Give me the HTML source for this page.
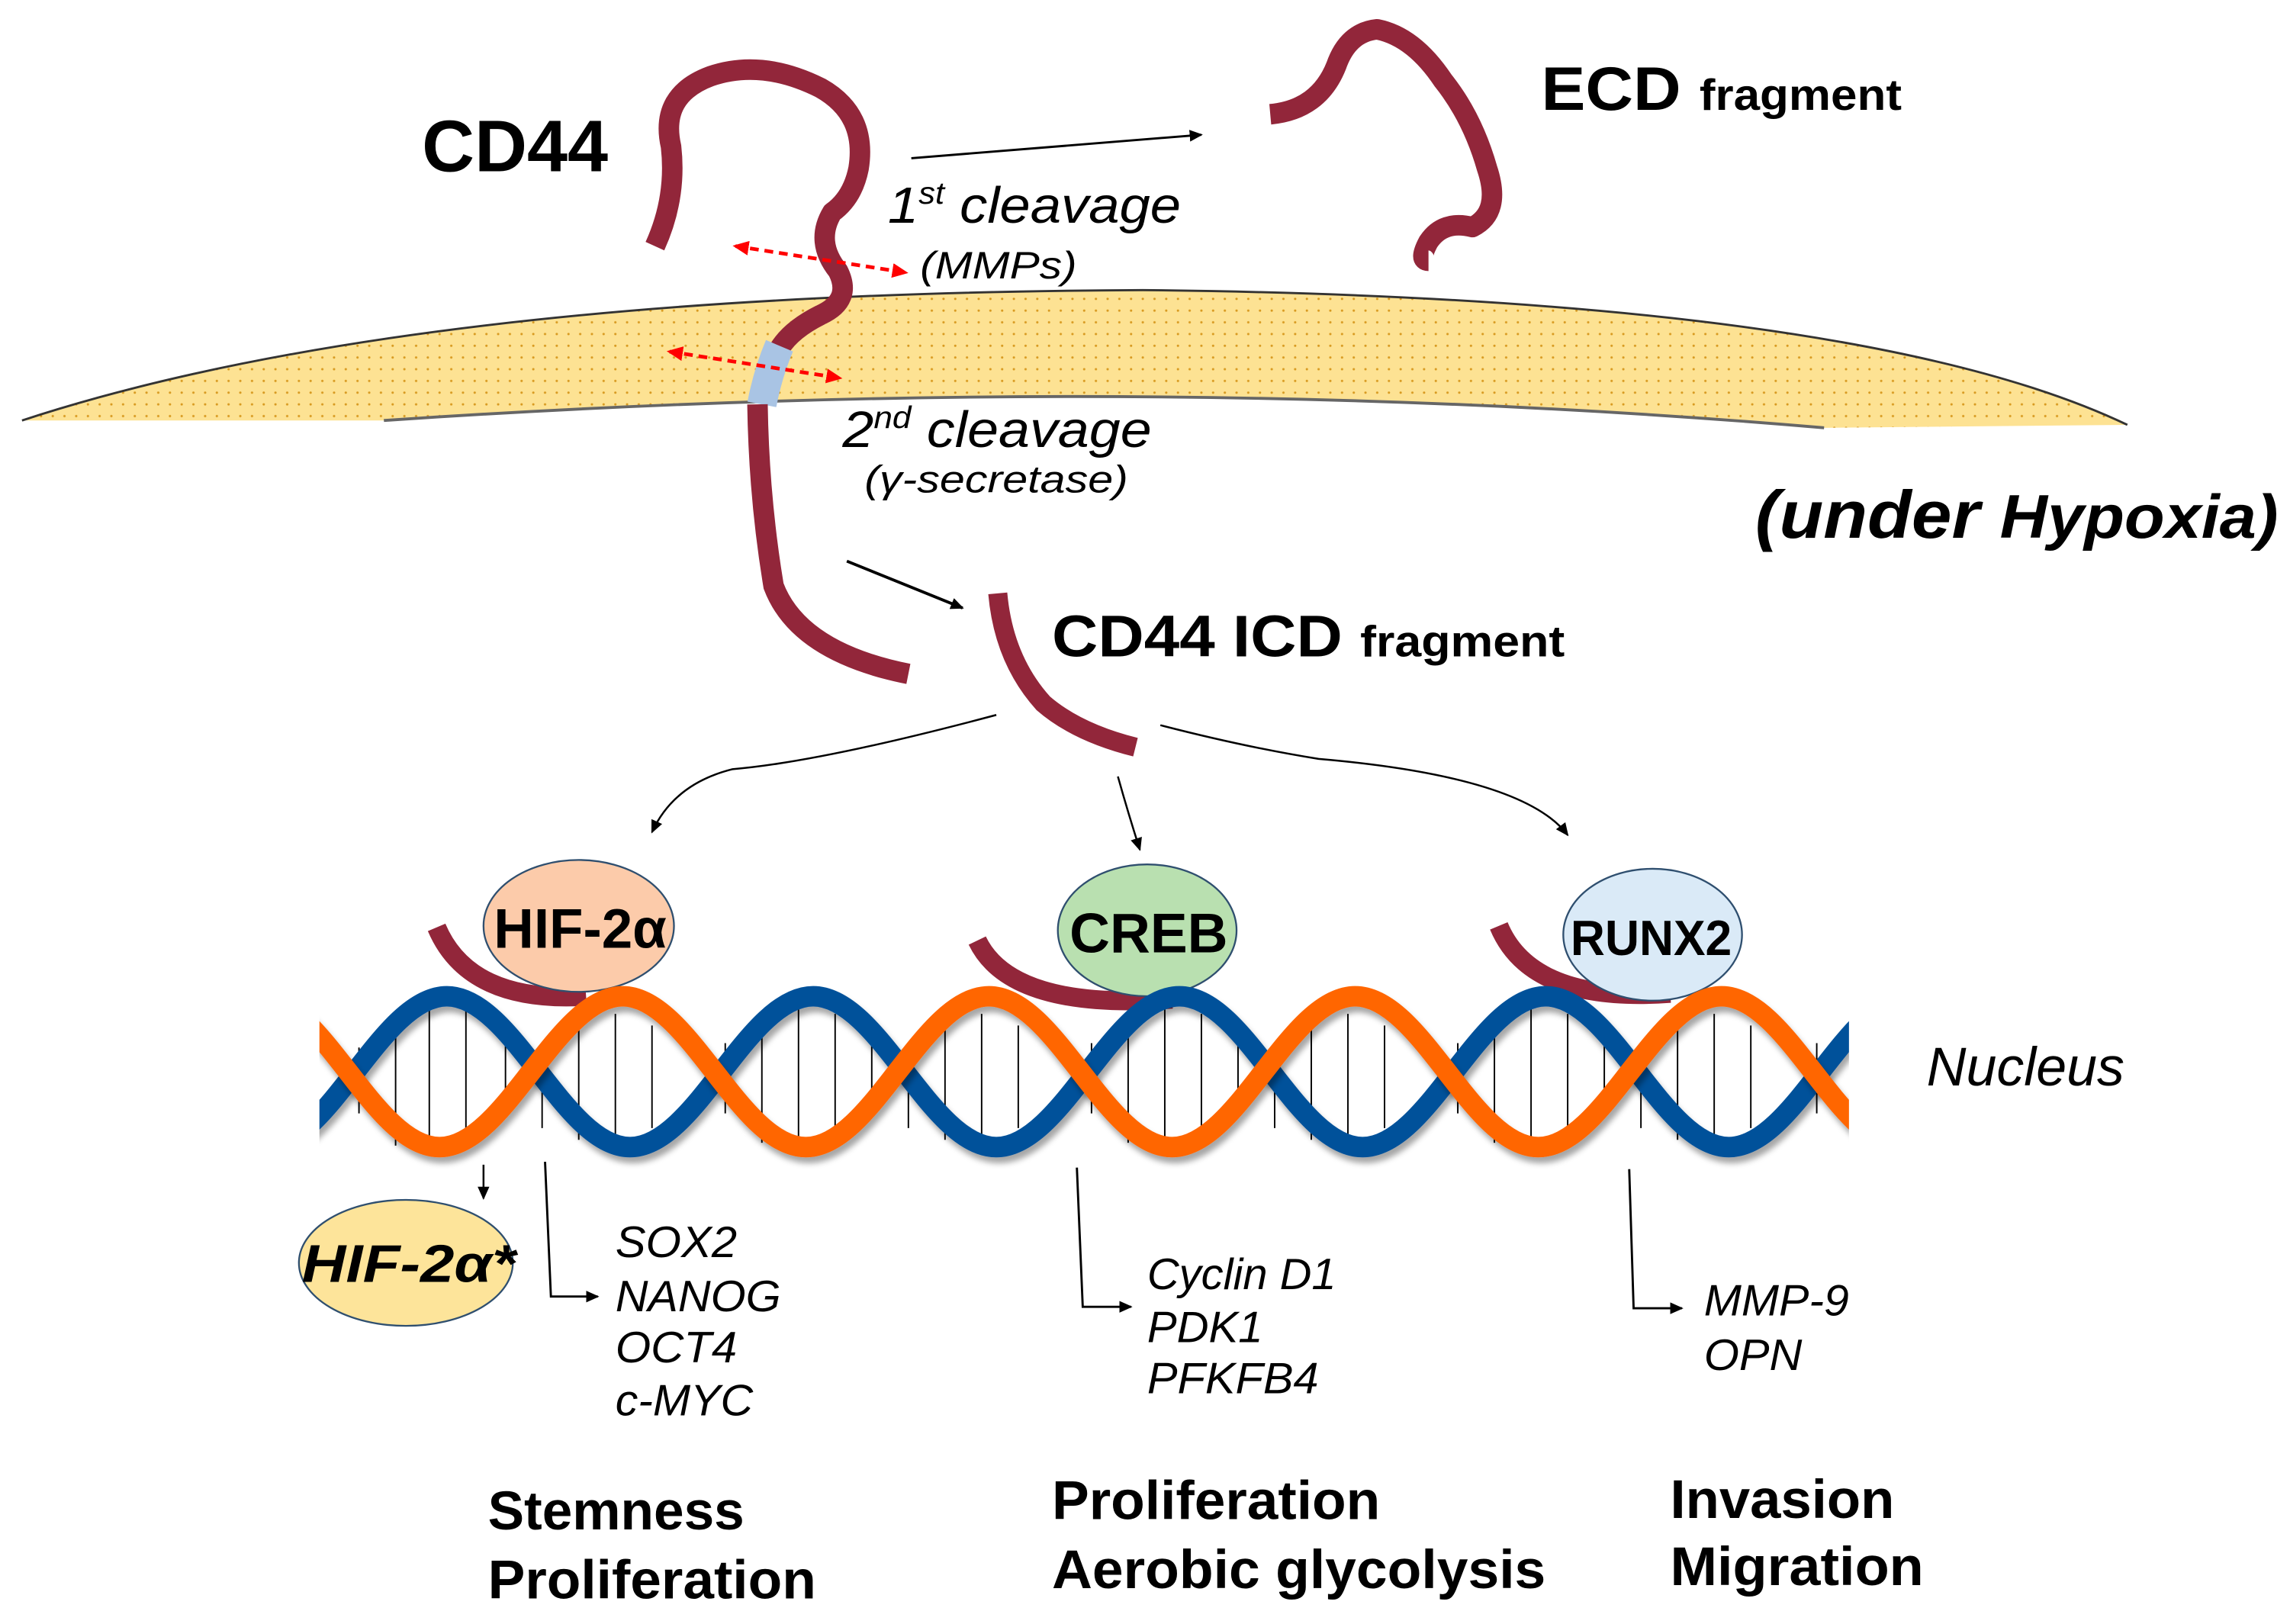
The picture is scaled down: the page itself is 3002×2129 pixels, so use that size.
<!DOCTYPE html>
<html><head><meta charset="utf-8"><style>
html,body{margin:0;padding:0;background:#fff;}
svg{display:block;}
text{font-family:"Liberation Sans",Arial,sans-serif;}
</style></head><body>
<svg width="3002" height="2129" viewBox="0 0 1563 1108.5" xmlns="http://www.w3.org/2000/svg">
<defs>
<pattern id="dots" width="8" height="8" patternUnits="userSpaceOnUse">
<rect width="8" height="8" fill="#FDE293"/>
<circle cx="4" cy="4" r="0.8" fill="#D89A20"/>
</pattern>
<marker id="ah" markerWidth="10" markerHeight="10" refX="8" refY="5" orient="auto" markerUnits="userSpaceOnUse">
<path d="M0,1 L9,5 L0,9 z" fill="#000"/>
</marker>
<marker id="rh" markerWidth="12" markerHeight="12" refX="9" refY="6" orient="auto-start-reverse" markerUnits="userSpaceOnUse">
<path d="M0,1 L11,6 L0,11 z" fill="#f00"/>
</marker>
<filter id="sh" x="-5%" y="-10%" width="110%" height="130%"><feDropShadow dx="2" dy="4" stdDeviation="2" flood-color="#000" flood-opacity="0.35"/></filter>
<clipPath id="dnaclip"><rect x="218" y="640" width="1044" height="170"/></clipPath>
</defs>

<!-- membrane -->
<path d="M15,287 Q280,200 780,198 Q1270,203 1452,290 L1245,292 Q780,252 262,287 Z" fill="url(#dots)"/>
<path d="M15,287 Q280,200 780,198 Q1270,203 1452,290" fill="none" stroke="#333" stroke-width="1.5"/>
<path d="M262,287 Q780,252 1245,292" fill="none" stroke="#666" stroke-width="2"/>

<!-- CD44 full -->
<path d="M447,168 Q462,135 458,100 Q450,65 485,52 Q520,40 560,60 Q592,78 586,115 Q582,135 568,145 Q556,165 572,185 Q582,205 560,215 Q540,225 532,238" fill="none" stroke="#92263A" stroke-width="14" stroke-linejoin="round"/>
<path d="M532,236 Q524,255 520,276" fill="none" stroke="#A9C4E4" stroke-width="20"/>
<path d="M517,276 Q518,340 528,400 Q545,445 620,460" fill="none" stroke="#92263A" stroke-width="14"/>

<!-- ECD fragment -->
<path d="M867,78 Q900,75 912,45 Q920,22 940,20 Q965,25 985,55 Q1005,80 1015,115 Q1025,145 1005,155 Q985,150 975,165 Q968,178 975,178" fill="none" stroke="#92263A" stroke-width="14" stroke-linejoin="round"/>

<!-- ICD fragment -->
<path d="M681,405 Q685,450 712,480 Q735,500 775,510" fill="none" stroke="#92263A" stroke-width="13"/>

<!-- arrows -->
<line x1="622" y1="108" x2="820" y2="92" stroke="#000" stroke-width="1.5" marker-end="url(#ah)"/>
<line x1="578" y1="383" x2="657" y2="415" stroke="#000" stroke-width="2" marker-end="url(#ah)"/>
<line x1="502" y1="168" x2="618" y2="186" stroke="#f00" stroke-width="2.5" stroke-dasharray="6,4" marker-start="url(#rh)" marker-end="url(#rh)"/>
<line x1="457" y1="240" x2="573" y2="258" stroke="#f00" stroke-width="2.5" stroke-dasharray="6,4" marker-start="url(#rh)" marker-end="url(#rh)"/>
<path d="M680,488 Q560,520 500,525 Q460,535 445,568" fill="none" stroke="#000" stroke-width="1.3" marker-end="url(#ah)"/>
<path d="M763,530 Q770,555 778,580" fill="none" stroke="#000" stroke-width="1.3" marker-end="url(#ah)"/>
<path d="M792,495 Q850,510 900,518 Q1040,530 1070,570" fill="none" stroke="#000" stroke-width="1.3" marker-end="url(#ah)"/>

<!-- top texts -->
<text x="288" y="117" font-size="50" font-weight="bold" textLength="127" lengthAdjust="spacingAndGlyphs">CD44</text>
<text x="1052" y="75" font-size="42" font-weight="bold" textLength="246" lengthAdjust="spacingAndGlyphs">ECD <tspan font-size="30">fragment</tspan></text>
<text x="606" y="152" font-size="35" font-style="italic" textLength="200" lengthAdjust="spacingAndGlyphs">1<tspan font-size="21" dy="-13">st</tspan><tspan dy="13"> cleavage</tspan></text>
<text x="628" y="190" font-size="26" font-style="italic" textLength="107" lengthAdjust="spacingAndGlyphs">(MMPs)</text>
<text x="575" y="305" font-size="35" font-style="italic" textLength="211" lengthAdjust="spacingAndGlyphs">2<tspan font-size="21" dy="-13">nd</tspan><tspan dy="13"> cleavage</tspan></text>
<text x="590" y="336" font-size="26" font-style="italic" textLength="180" lengthAdjust="spacingAndGlyphs">(γ-secretase)</text>
<text x="1198" y="367" font-size="46" font-weight="bold" font-style="italic" textLength="357" lengthAdjust="spacingAndGlyphs">(under <tspan font-size="42">Hypoxia)</tspan></text>
<text x="718" y="448" font-size="40" font-weight="bold" textLength="350" lengthAdjust="spacingAndGlyphs">CD44 ICD <tspan font-size="30">fragment</tspan></text>

<!-- maroon arcs -->
<path d="M298,633 Q320,685 400,680" fill="none" stroke="#92263A" stroke-width="13"/>
<path d="M667,642 Q690,690 800,682" fill="none" stroke="#92263A" stroke-width="13"/>
<path d="M1023,632 Q1045,685 1140,678" fill="none" stroke="#92263A" stroke-width="13"/>

<!-- ellipses -->
<ellipse cx="395" cy="632" rx="65" ry="45" fill="#FCCBAA" stroke="#2F4F6F" stroke-width="1.2"/>
<text x="337" y="647" font-size="38" font-weight="bold" textLength="118" lengthAdjust="spacingAndGlyphs">HIF-2α</text>
<ellipse cx="783" cy="635" rx="61" ry="45" fill="#B9E0B0" stroke="#2F4F6F" stroke-width="1.2"/>
<text x="730" y="650" font-size="38" font-weight="bold" textLength="108" lengthAdjust="spacingAndGlyphs">CREB</text>
<ellipse cx="1128" cy="638" rx="61" ry="45" fill="#DAEAF7" stroke="#2F4F6F" stroke-width="1.2"/>
<text x="1072" y="652" font-size="34" font-weight="bold" textLength="110" lengthAdjust="spacingAndGlyphs">RUNX2</text>

<!-- DNA -->
<g clip-path="url(#dnaclip)">
<g stroke="#000" stroke-width="1">
<line x1="245" y1="715" x2="245" y2="760"/><line x1="270" y1="695" x2="270" y2="782"/><line x1="293" y1="688" x2="293" y2="785"/><line x1="318" y1="690" x2="318" y2="785"/><line x1="345" y1="710" x2="345" y2="760"/>
<line x1="370" y1="712" x2="370" y2="770"/><line x1="395" y1="700" x2="395" y2="778"/><line x1="420" y1="692" x2="420" y2="780"/><line x1="445" y1="700" x2="445" y2="770"/>
<line x1="495" y1="712" x2="495" y2="760"/><line x1="520" y1="695" x2="520" y2="780"/><line x1="545" y1="688" x2="545" y2="785"/><line x1="570" y1="692" x2="570" y2="782"/><line x1="595" y1="710" x2="595" y2="760"/>
<line x1="620" y1="712" x2="620" y2="770"/><line x1="645" y1="700" x2="645" y2="778"/><line x1="670" y1="692" x2="670" y2="780"/><line x1="695" y1="700" x2="695" y2="770"/>
<line x1="745" y1="712" x2="745" y2="760"/><line x1="770" y1="695" x2="770" y2="780"/><line x1="795" y1="688" x2="795" y2="785"/><line x1="820" y1="692" x2="820" y2="782"/><line x1="845" y1="710" x2="845" y2="760"/>
<line x1="870" y1="712" x2="870" y2="770"/><line x1="895" y1="700" x2="895" y2="778"/><line x1="920" y1="692" x2="920" y2="780"/><line x1="945" y1="700" x2="945" y2="770"/>
<line x1="995" y1="712" x2="995" y2="760"/><line x1="1020" y1="695" x2="1020" y2="780"/><line x1="1045" y1="688" x2="1045" y2="785"/><line x1="1070" y1="692" x2="1070" y2="782"/><line x1="1095" y1="710" x2="1095" y2="760"/>
<line x1="1120" y1="712" x2="1120" y2="770"/><line x1="1145" y1="700" x2="1145" y2="778"/><line x1="1170" y1="692" x2="1170" y2="780"/><line x1="1195" y1="700" x2="1195" y2="770"/><line x1="1240" y1="712" x2="1240" y2="760"/>
</g>
<path filter="url(#sh)" d="M180,783 C225,783 260,680 305,680 C350,680 385,783 430,783 C475,783 510,680 555,680 C600,680 635,783 680,783 C725,783 760,680 805,680 C850,680 885,783 930,783 C975,783 1010,680 1055,680 C1100,680 1135,783 1180,783 C1225,783 1260,680 1305,680" fill="none" stroke="#02519A" stroke-width="14"/>
<path filter="url(#sh)" d="M175,680 C220,680 255,783 300,783 C345,783 380,680 425,680 C470,680 505,783 550,783 C595,783 630,680 675,680 C720,680 755,783 800,783 C845,783 880,680 925,680 C970,680 1005,783 1050,783 C1095,783 1130,680 1175,680 C1220,680 1255,783 1300,783" fill="none" stroke="#FF6600" stroke-width="14"/>
</g>
<text x="1315" y="741" font-size="37" font-style="italic" textLength="135" lengthAdjust="spacingAndGlyphs">Nucleus</text>

<!-- lower -->
<line x1="330" y1="795" x2="330" y2="818" stroke="#000" stroke-width="1.3" marker-end="url(#ah)"/>
<ellipse cx="277" cy="862" rx="73" ry="43" fill="#FDE49A" stroke="#2F4F6F" stroke-width="1.2"/>
<text x="206" y="875" font-size="36" font-weight="bold" font-style="italic" textLength="146" lengthAdjust="spacingAndGlyphs">HIF-2α*</text>

<path d="M372,793 L376,885 L408,885" fill="none" stroke="#000" stroke-width="1.5" marker-end="url(#ah)"/>
<path d="M735,797 L739,892 L772,892" fill="none" stroke="#000" stroke-width="1.5" marker-end="url(#ah)"/>
<path d="M1112,798 L1115,893 L1148,893" fill="none" stroke="#000" stroke-width="1.5" marker-end="url(#ah)"/>

<g font-size="30" font-style="italic">
<text x="420" y="858" textLength="83" lengthAdjust="spacingAndGlyphs">SOX2</text>
<text x="420" y="895" textLength="113" lengthAdjust="spacingAndGlyphs">NANOG</text>
<text x="420" y="930" textLength="83" lengthAdjust="spacingAndGlyphs">OCT4</text>
<text x="420" y="966" textLength="94" lengthAdjust="spacingAndGlyphs">c-MYC</text>
<text x="783" y="880" textLength="129" lengthAdjust="spacingAndGlyphs">Cyclin D1</text>
<text x="783" y="916" textLength="79" lengthAdjust="spacingAndGlyphs">PDK1</text>
<text x="783" y="951" textLength="117" lengthAdjust="spacingAndGlyphs">PFKFB4</text>
<text x="1163" y="898" textLength="99" lengthAdjust="spacingAndGlyphs">MMP-9</text>
<text x="1163" y="935" textLength="67" lengthAdjust="spacingAndGlyphs">OPN</text>
</g>
<g font-size="37" font-weight="bold">
<text x="333" y="1044" textLength="175" lengthAdjust="spacingAndGlyphs">Stemness</text>
<text x="333" y="1091" textLength="224" lengthAdjust="spacingAndGlyphs">Proliferation</text>
<text x="718" y="1037" textLength="224" lengthAdjust="spacingAndGlyphs">Proliferation</text>
<text x="718" y="1084" textLength="337" lengthAdjust="spacingAndGlyphs">Aerobic glycolysis</text>
<text x="1140" y="1036" textLength="153" lengthAdjust="spacingAndGlyphs">Invasion</text>
<text x="1140" y="1082" textLength="173" lengthAdjust="spacingAndGlyphs">Migration</text>
</g>
</svg>
</body></html>
